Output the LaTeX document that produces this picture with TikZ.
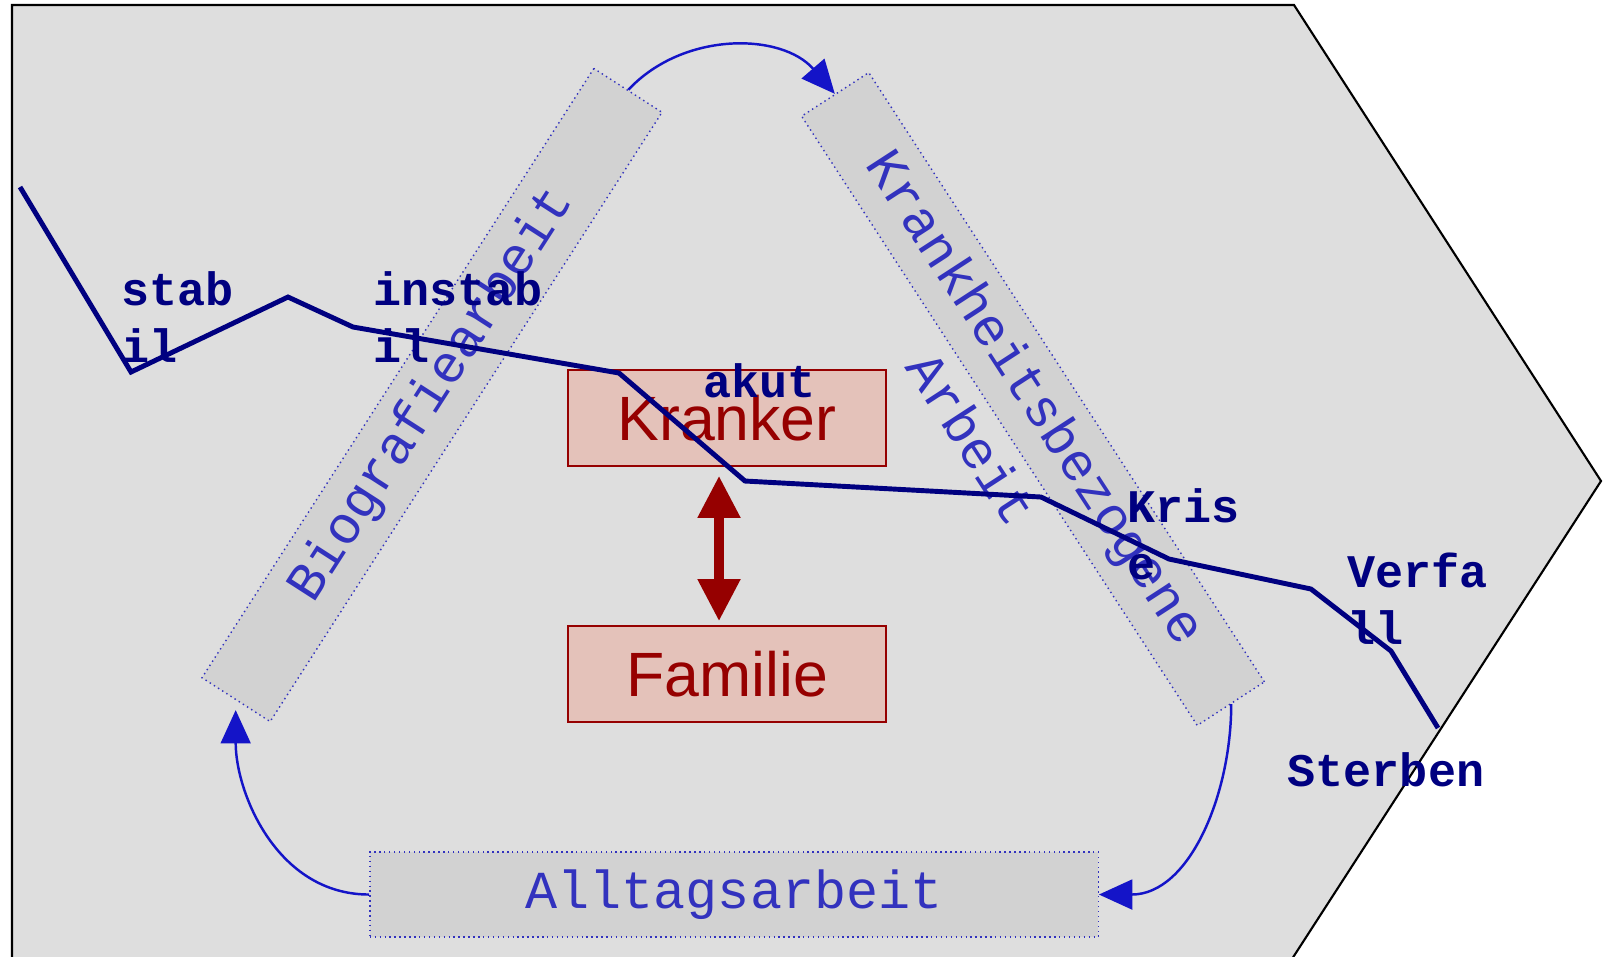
\documentclass[tikz,border=0pt]{standalone}
\usepackage{fontspec}
\setmainfont{Liberation Sans}
\setsansfont{Liberation Sans}
\setmonofont{Liberation Mono}
\usepackage{tikz}
\usetikzlibrary{positioning,arrows.meta,calc}

\definecolor{bggray}{RGB}{222,222,222}
\definecolor{bandgray}{RGB}{210,210,210}
\definecolor{bandblue}{RGB}{50,50,190}
\definecolor{loopblue}{RGB}{20,20,200}
\definecolor{boxpink}{RGB}{228,194,186}
\definecolor{boxred}{RGB}{150,0,0}
\definecolor{trajnavy}{RGB}{0,0,128}

\begin{document}
\begin{tikzpicture}[x=0.01cm, y=0.01cm,
  band/.style={draw=bandblue, densely dotted, line width=0.4pt, fill=bandgray, inner sep=0pt,
    text=bandblue, font=\ttfamily\fontsize{15.2}{18}\selectfont},
  bandlabel/.style={inner sep=0pt, text=bandblue, font=\ttfamily\fontsize{15.2}{18}\selectfont},
  personbox/.style={draw=boxred, line width=0.5pt, fill=boxpink, minimum width=3.18cm, minimum height=0.96cm,
    inner sep=0pt, text=boxred, font=\sffamily\fontsize{17.8}{20}\selectfont},
  famarrow/.style={{Triangle[length=12pt,width=11.5pt]}-{Triangle[length=12pt,width=11.5pt]}, line width=2.8pt, draw=boxred},
  looparrow/.style={-{Triangle[length=9.5pt,width=8.5pt]}, line width=0.7pt, draw=loopblue},
  trajectory/.style={draw=trajnavy, line width=1.4pt},
  phase/.style={anchor=north west, inner sep=0pt, align=left, text=trajnavy,
    font=\ttfamily\bfseries\fontsize{13.3}{16.2}\selectfont}]

\useasboundingbox (0,0) rectangle (1604,-956);

% Background arrow shape
\filldraw[fill=bggray, draw=black, line width=0.6pt] (12,-5) -- (1294,-5) -- (1601,-481) -- (1290,-962) -- (12,-962) -- cycle;

% The three lines of work
\node[band, minimum width=7.24cm, minimum height=0.81cm, rotate=57.25] (biografie) at (432,-395) {Biografiearbeit};
\node[band, minimum width=7.26cm, minimum height=0.80cm, rotate=-57] (krankheit) at (1033,-399) {Krankheitsbezogene};
\node[bandlabel, rotate=-57] (arbeit) at ($(krankheit.center)!1.77!(krankheit.south)$) {Arbeit};
\node[band, minimum width=7.28cm, minimum height=0.85cm] (alltag) at (734,-894.5) {Alltagsarbeit};

% Patient and family
\node[personbox] (kranker) at (727,-418) {Kranker};
\node[personbox] (familie) at (727,-674) {Familie};
\draw[famarrow, shorten <=2.5pt, shorten >=1.1pt] ([xshift=-0.08cm]kranker.south) -- ([xshift=-0.08cm]familie.north);

% Cycle between the lines of work
\draw[looparrow] (biografie.east) to[bend left=48] (krankheit.west);
\draw[looparrow] (krankheit.east) to[out=-90, in=0] (alltag.east);
\draw[looparrow, shorten >=2.8pt] (alltag.west) to[out=180, in=-90] (biografie.west);

% Illness trajectory
\draw[trajectory] (20,-187) -- (131,-372) -- (288,-297) -- (353,-327) -- (619,-373) -- (745,-481)
  -- (1041,-497) -- (1169,-559) -- (1311,-589) -- (1391,-651) -- (1438,-728);

% Phase labels
\node[phase] (stabil) at (121,-271) {stab\\il};
\node[phase] (instabil) at (373,-271) {instab\\il};
\node[phase] (akut) at (703,-363) {akut};
\node[phase] (krise) at (1127,-488) {Kris\\e};
\node[phase] (verfall) at (1347,-552) {Verfa\\ll};
\node[phase] (sterben) at (1287,-752) {Sterben};
\end{tikzpicture}
\end{document}
